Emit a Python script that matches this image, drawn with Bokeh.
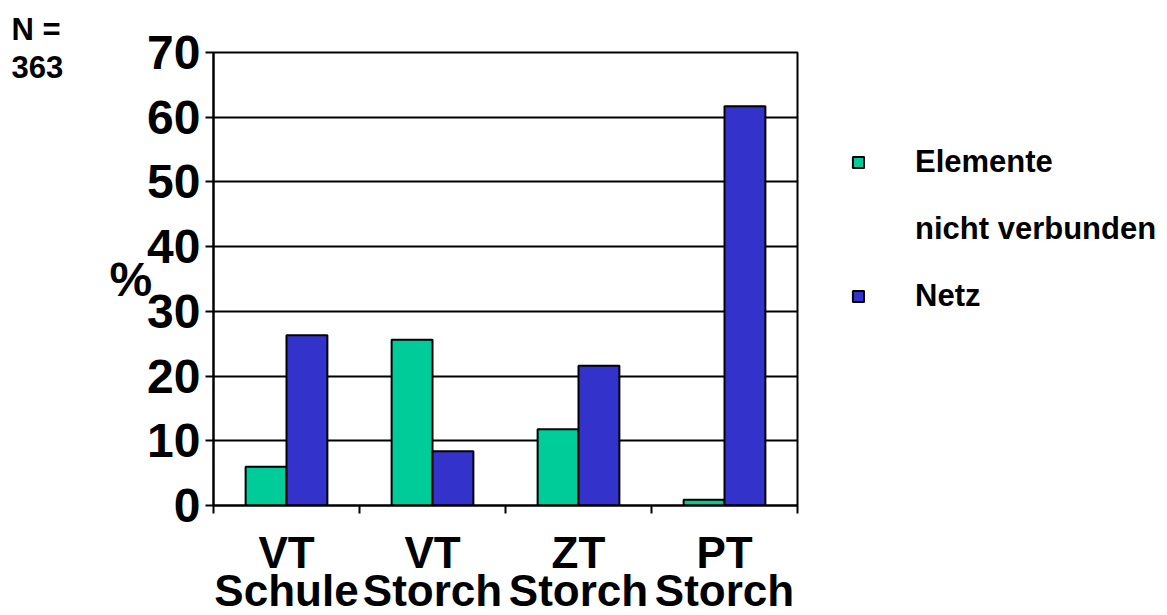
from bokeh.plotting import figure
from bokeh.models import (ColumnDataSource, FixedTicker, Legend, LegendItem, Range1d,
                          LinearAxis, Title)
from bokeh.transform import dodge
from bokeh.embed import file_html
from bokeh.resources import INLINE

# ---- data ----
categories = ["VT\nSchule", "VT\nStorch", "ZT\nStorch", "PT\nStorch"]
elemente = [6.0, 25.6, 11.8, 0.9]
netz = [26.3, 8.4, 21.6, 61.7]
y_ticks = [0, 10, 20, 30, 40, 50, 60, 70]
legend_labels = ["Elemente", "nicht verbunden", "Netz"]
series_colors = ["#00CC99", "#3333CC"]
n_text = "N =\n363"

FONT = "Liberation Sans"

ncat = len(categories)
centers = [i + 0.5 for i in range(ncat)]
bounds = list(range(ncat + 1))

p = figure(frame_width=584, frame_height=453, x_range=Range1d(0, ncat),
           y_range=Range1d(0, 70), x_axis_location=None,
           output_backend="svg", toolbar_location=None,
           min_border_left=213, min_border_right=370,
           min_border_top=52, min_border_bottom=110)
p.background_fill_color = "white"
p.border_fill_color = "white"
p.outline_line_color = "black"
p.outline_line_width = 2

src = ColumnDataSource(dict(x=centers, elemente=elemente, netz=netz))
r1 = p.vbar(x=dodge("x", -0.14), top="elemente", width=0.28,
            source=src, fill_color=series_colors[0], line_color="black", line_width=2)
r2 = p.vbar(x=dodge("x", 0.14), top="netz", width=0.28,
            source=src, fill_color=series_colors[1], line_color="black", line_width=2)
# invisible renderer that only carries the legend's middle text line
r_txt = p.vbar(x=dodge("x", -0.14), top="elemente", width=0.28, source=src,
               fill_alpha=0, line_alpha=0)

# grid
p.xgrid.visible = False
p.ygrid.ticker = FixedTicker(ticks=y_ticks)
p.ygrid.grid_line_color = "black"
p.ygrid.grid_line_width = 2

# y axis
ya = p.yaxis[0]
ya.ticker = FixedTicker(ticks=y_ticks)
ya.major_tick_out = 8
ya.major_tick_in = 0
ya.minor_tick_line_color = None
ya.axis_line_width = 2
ya.major_tick_line_width = 2
ya.major_label_standoff = 5
ya.major_label_text_font = FONT
ya.major_label_text_font_style = "bold"
ya.major_label_text_font_size = "48px"
ya.major_label_text_color = "black"
ya.axis_label = "%"
ya.axis_label_orientation = "horizontal"
ya.axis_label_standoff = -8
ya.axis_label_text_font = FONT
ya.axis_label_text_font_style = "bold"
ya.axis_label_text_font_size = "48px"
ya.axis_label_text_color = "black"

# x axis with ticks at category boundaries
tick_axis = LinearAxis(ticker=FixedTicker(ticks=bounds),
                       major_label_overrides={b: "" for b in bounds},
                       major_label_text_font_size="1px",
                       major_tick_out=8, major_tick_in=0, minor_tick_line_color=None,
                       axis_line_width=2, major_tick_line_width=2,
                       major_label_standoff=0)
p.add_layout(tick_axis, "below")

# category labels axis
cat_axis = LinearAxis(ticker=FixedTicker(ticks=centers),
                      major_label_overrides=dict(zip(centers, categories)),
                      major_tick_line_color=None, minor_tick_line_color=None,
                      axis_line_color=None, major_label_standoff=8,
                      major_label_text_font=FONT, major_label_text_font_style="bold",
                      major_label_text_font_size="44px", major_label_text_color="black",
                      major_label_text_line_height=0.78)
p.add_layout(cat_axis, "below")

# N = 363
p.title = Title(text=n_text, align="left", offset=-202, vertical_align="top",
                standoff=-70, text_font=FONT, text_font_style="bold",
                text_font_size="31px", text_color="black", text_line_height=1.1)

# legend
legend = Legend(items=[LegendItem(label=legend_labels[0], renderers=[r1]),
                       LegendItem(label=legend_labels[1], renderers=[r_txt]),
                       LegendItem(label=legend_labels[2], renderers=[r2])],
                location=(54, 191), padding=0, margin=0, spacing=31,
                border_line_color=None, background_fill_alpha=0,
                glyph_width=14, glyph_height=14, label_standoff=50,
                label_text_font=FONT, label_text_font_style="bold",
                label_text_font_size="31px", label_text_color="black")
p.add_layout(legend, "right")

open("out.html", "w").write(file_html(p, INLINE))
